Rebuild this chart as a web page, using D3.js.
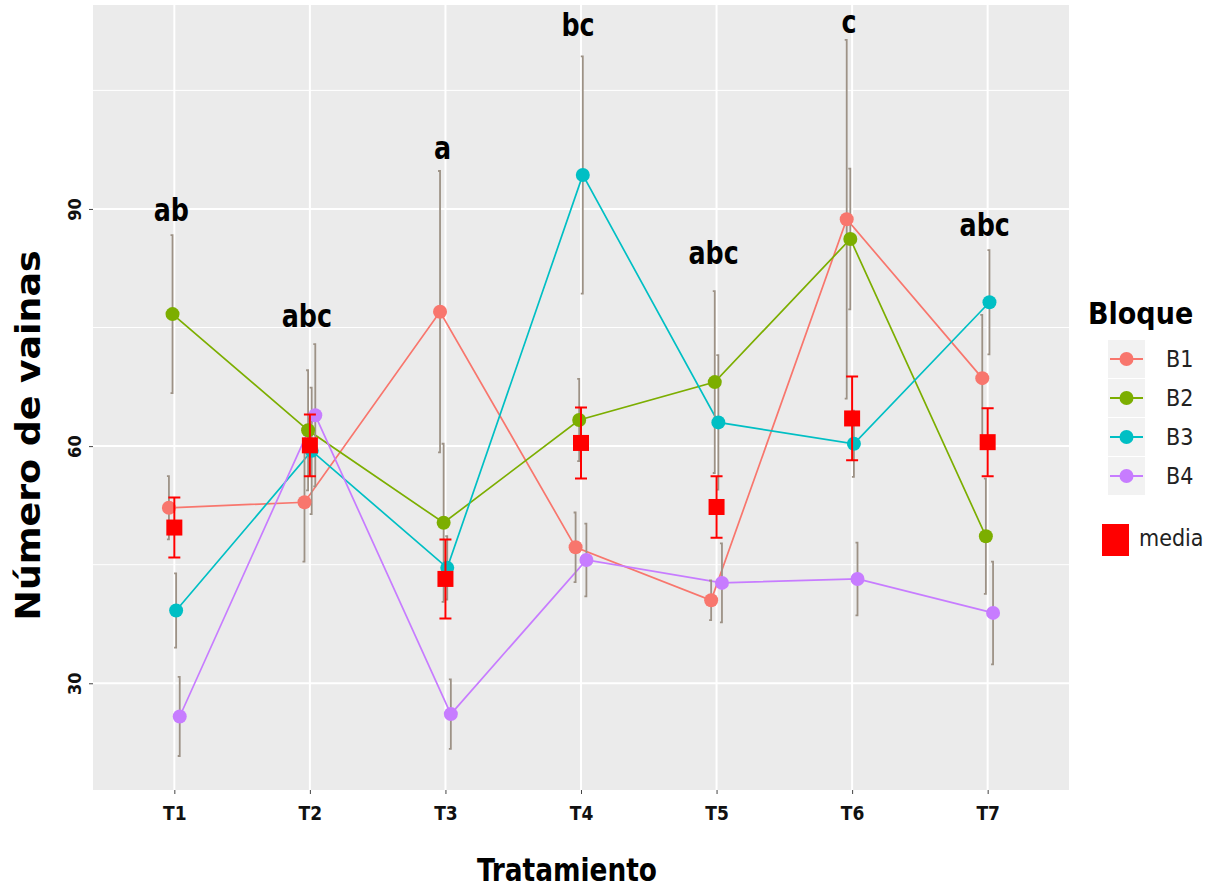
<!DOCTYPE html>
<html>
<head>
<meta charset="utf-8">
<script src="https://cdn.jsdelivr.net/npm/d3@7"></script>
<style>
  body { margin: 0; background: #fff; }
  text { font-family: 'DejaVu Sans Condensed', 'DejaVu Sans', sans-serif; font-stretch: condensed; }
</style>
</head>
<body>
<svg id="chart" width="1217" height="888"></svg>
<script>
// Data

const treatments = ['T1', 'T2', 'T3', 'T4', 'T5', 'T6', 'T7']
const blocks = ['B1', 'B2', 'B3', 'B4']

const b1 = [52.2, 52.9, 77.0, 47.2, 40.5, 88.7, 68.6]
const b1Err = [4.0, 7.5, 17.8, 4.4, 2.5, 22.7, 8.0]
const b2 = [76.7, 62.0, 50.3, 63.3, 68.1, 86.2, 48.6]
const b2Err = [10.0, 7.6, 10.0, 5.2, 11.5, 8.9, 7.3]
const b3 = [39.2, 59.4, 44.6, 94.3, 63.0, 60.3, 78.2]
const b3Err = [4.7, 8.0, 4.0, 15.0, 8.5, 4.2, 6.6]
const b4 = [25.8, 63.9, 26.1, 45.6, 42.7, 43.2, 38.9]
const b4Err = [5.0, 9.0, 4.4, 4.6, 5.0, 4.6, 6.5]

const means = [49.7, 60.1, 43.2, 60.4, 52.3, 63.5, 60.5]
const meanErr = [3.8, 3.9, 5.0, 4.5, 3.9, 5.3, 4.3]

const letters = ['ab', 'abc', 'a', 'bc', 'abc', 'c', 'abc']
const letterY = [89.9, 76.5, 97.7, 113.3, 84.4, 113.7, 88.0]

const yTicks = [30, 60, 90]
const yMinor = [45, 75, 105]

const colors = ['#F8766D', '#7CAE00', '#00BFC4', '#C77CFF']

// Layout

const panel = {left: 93, top: 5, right: 1069, bottom: 790}

const svg = d3.select('#chart')

const x = d3.scalePoint()
  .domain(treatments)
  .range([panel.left, panel.right])
  .padding(0.6)

const dodge = d3.scalePoint()
  .domain(blocks)
  .range([-5.4, 5.4])

const y = d3.scaleLinear()
  .domain([16.5, 115.8])
  .range([panel.bottom, panel.top])

const series = blocks.map((b, i) => ({
  name: b,
  color: colors[i],
  values: treatments.map((t, j) => ({
    t,
    v: [b1, b2, b3, b4][i][j],
    e: [b1Err, b2Err, b3Err, b4Err][i][j]
  }))
}))

const px = (d, b) => x(d.t) + dodge(b)

// Panel and grid

svg.append('rect')
  .attr('x', panel.left)
  .attr('y', panel.top)
  .attr('width', panel.right - panel.left)
  .attr('height', panel.bottom - panel.top)
  .attr('fill', '#ebebeb')

svg.append('g')
  .selectAll('line')
  .data(yMinor)
  .enter().append('line')
    .attr('x1', panel.left)
    .attr('x2', panel.right)
    .attr('y1', (d) => y(d))
    .attr('y2', (d) => y(d))
    .attr('stroke', '#fff')
    .attr('stroke-width', 1)

svg.append('g')
  .selectAll('line')
  .data(yTicks)
  .enter().append('line')
    .attr('x1', panel.left)
    .attr('x2', panel.right)
    .attr('y1', (d) => y(d))
    .attr('y2', (d) => y(d))
    .attr('stroke', '#fff')
    .attr('stroke-width', 2)

svg.append('g')
  .selectAll('line')
  .data(treatments)
  .enter().append('line')
    .attr('x1', (d) => x(d))
    .attr('x2', (d) => x(d))
    .attr('y1', panel.top)
    .attr('y2', panel.bottom)
    .attr('stroke', '#fff')
    .attr('stroke-width', 2)

// Axes

const xAxis = svg.append('g')
  .attr('transform', `translate(0,${panel.bottom})`)
  .call(d3.axisBottom(x).tickSize(4).tickPadding(13))
xAxis.select('.domain').remove()
xAxis.selectAll('line').attr('stroke', '#444')
xAxis.selectAll('text')
  .attr('fill', '#111')
  .style('font-size', '19px')
  .style('font-weight', 'bold')

const yAxis = svg.append('g')
  .attr('transform', `translate(${panel.left},0)`)
  .call(d3.axisLeft(y).tickValues(yTicks).tickSize(4))
yAxis.select('.domain').remove()
yAxis.selectAll('line').attr('stroke', '#444')
yAxis.selectAll('text')
  .attr('fill', '#111')
  .attr('x', 0)
  .attr('dy', 0)
  .attr('text-anchor', 'middle')
  .attr('transform', 'translate(-12,0) rotate(-90)')
  .style('font-size', '18px')
  .style('font-weight', 'bold')

svg.append('text')
  .attr('transform', `translate(40,${(panel.top + panel.bottom) / 2 + 38}) rotate(-90)`)
  .attr('text-anchor', 'middle')
  .attr('textLength', 370)
  .attr('lengthAdjust', 'spacingAndGlyphs')
  .style('font-size', '34px')
  .style('font-weight', 'bold')
  .style('font-stretch', 'normal')
  .attr('fill', '#000')
  .text('Número de vainas')

svg.append('text')
  .attr('x', 567)
  .attr('y', 881)
  .attr('text-anchor', 'middle')
  .attr('textLength', 180)
  .attr('lengthAdjust', 'spacingAndGlyphs')
  .style('font-size', '32px')
  .style('font-weight', 'bold')
  .attr('fill', '#000')
  .text('Tratamiento')

// Lines per block

const line = (b) => d3.line()
  .x((d) => px(d, b))
  .y((d) => y(d.v))

svg.append('g')
  .selectAll('path')
  .data(series)
  .enter().append('path')
    .attr('d', (s) => line(s.name)(s.values))
    .attr('fill', 'none')
    .attr('stroke', (s) => s.color)
    .attr('stroke-width', 1.7)

// Block error bars

const errG = svg.append('g')
  .attr('stroke', '#9d9286')
  .attr('stroke-width', 1.8)
  .attr('fill', 'none')

series.forEach((s) => {
  errG.selectAll(null)
    .data(s.values)
    .enter().append('path')
      .attr('d', (d) => {
        const cx = px(d, s.name)
        const top = y(d.v + d.e)
        const bot = y(d.v - d.e)
        return `M${cx - 2},${top}H${cx}V${bot}H${cx - 2}`
      })
})

// Block points

series.forEach((s) => {
  svg.append('g')
    .selectAll('circle')
    .data(s.values)
    .enter().append('circle')
      .attr('cx', (d) => px(d, s.name))
      .attr('cy', (d) => y(d.v))
      .attr('r', 7)
      .attr('fill', s.color)
})

// Means

const meanData = treatments.map((t, i) => ({t, v: means[i], e: meanErr[i]}))

svg.append('g')
  .selectAll('path')
  .data(meanData)
  .enter().append('path')
    .attr('d', (d) => {
      const cx = x(d.t)
      const top = y(d.v + d.e)
      const bot = y(d.v - d.e)
      return `M${cx - 6},${top}H${cx + 6}M${cx},${top}V${bot}M${cx - 6},${bot}H${cx + 6}`
    })
    .attr('stroke', '#ff0000')
    .attr('stroke-width', 2)
    .attr('fill', 'none')

svg.append('g')
  .selectAll('rect')
  .data(meanData)
  .enter().append('rect')
    .attr('x', (d) => x(d.t) - 8)
    .attr('y', (d) => y(d.v) - 8)
    .attr('width', 16)
    .attr('height', 16)
    .attr('fill', '#ff0000')

// Significance letters

svg.append('g')
  .selectAll('text')
  .data(treatments)
  .enter().append('text')
    .attr('x', (d) => x(d) - 3)
    .attr('y', (d, i) => y(letterY[i]))
    .attr('dy', '0.35em')
    .attr('text-anchor', 'middle')
    .style('font-size', '32px')
    .style('font-weight', 'bold')
    .attr('transform', (d, i) => `translate(${x(d) - 3},0) scale(0.88,1) translate(${-(x(d) - 3)},0)`)
    .attr('fill', '#000')
    .text((d, i) => letters[i])

// Legend

const legend = svg.append('g')

legend.append('text')
  .attr('x', 1088)
  .attr('y', 324)
  .style('font-size', '30px')
  .style('font-weight', 'bold')
  .attr('fill', '#000')
  .text('Bloque')

const row = legend.selectAll('g.row')
  .data(series)
  .enter().append('g')
    .attr('class', 'row')
    .attr('transform', (d, i) => `translate(1108,${340 + i * 39})`)

row.append('rect')
  .attr('width', 37)
  .attr('height', 38)
  .attr('fill', '#f2f2f2')

row.append('line')
  .attr('x1', 2)
  .attr('x2', 35)
  .attr('y1', 19)
  .attr('y2', 19)
  .attr('stroke', (d) => d.color)
  .attr('stroke-width', 1.8)

row.append('circle')
  .attr('cx', 18.5)
  .attr('cy', 19)
  .attr('r', 7)
  .attr('fill', (d) => d.color)

row.append('text')
  .attr('x', 58)
  .attr('y', 19)
  .attr('dy', '0.36em')
  .style('font-size', '23px')
  .attr('fill', '#222')
  .text((d) => d.name)

legend.append('rect')
  .attr('x', 1102)
  .attr('y', 524)
  .attr('width', 27)
  .attr('height', 32)
  .attr('fill', '#ff0000')

legend.append('text')
  .attr('x', 1139)
  .attr('y', 538)
  .attr('dy', '0.36em')
  .style('font-size', '23px')
  .attr('fill', '#222')
  .text('media')
</script>
</body>
</html>
